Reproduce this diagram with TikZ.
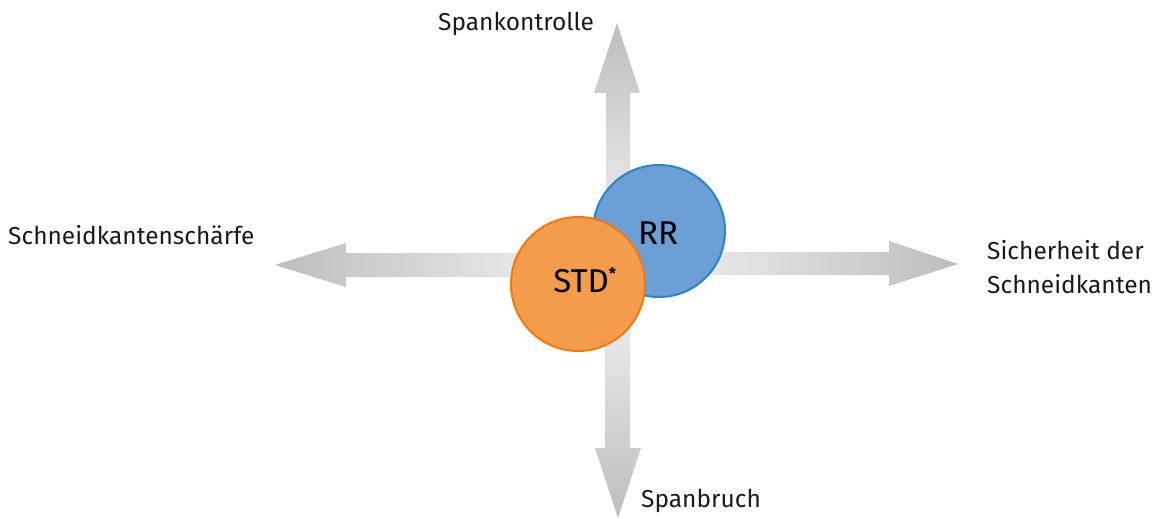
\documentclass[tikz,border=0pt]{standalone}
\usepackage{fontspec}
\setmainfont{Fira Sans}
\definecolor{arrowdark}{HTML}{BDBDBD}
\definecolor{arrowlight}{HTML}{F7F7F7}
\definecolor{rrfill}{HTML}{6B9FD5}
\definecolor{rrline}{HTML}{2A86C9}
\definecolor{stdfill}{HTML}{F39C4B}
\definecolor{stdline}{HTML}{EE7A12}
\definecolor{txt}{HTML}{1A1A1A}
\tikzset{
  lbl/.style={inner sep=0pt, text=txt, font=\fontsize{24.5}{28}\selectfont},
  bubble/.style={circle, line width=2pt, inner sep=0pt, text=black,
                 font=\fontsize{33}{36}\selectfont}
}
\begin{document}
\begin{tikzpicture}[x=1pt,y=-1pt]
\useasboundingbox (0,0) rectangle (1160,519);
\coordinate (c) at (618,264);
% block arrows radiating from the centre
\shade[top color=arrowdark, bottom color=arrowlight]
  (606,264) -- (606,93) -- (594,93) -- (617,23) -- (640,93) -- (630,93) -- (630,264) -- cycle;
\shade[top color=arrowlight, bottom color=arrowdark]
  (605,264) -- (605,448) -- (595,448) -- (618,518) -- (641,448) -- (630,448) -- (630,264) -- cycle;
\shade[left color=arrowdark, right color=arrowlight]
  (618,253) -- (346,253) -- (346,243) -- (275,265) -- (346,287) -- (346,277) -- (618,277) -- cycle;
\shade[left color=arrowlight, right color=arrowdark]
  (618,252) -- (889,252) -- (889,241) -- (958,264) -- (889,286) -- (889,275) -- (618,275) -- cycle;
% the two bubbles
\node[bubble, draw=rrline, fill=rrfill, minimum size=132pt] (rr) at (659,231) {};
\node[bubble, draw=stdline, fill=stdfill, minimum size=134pt] (std) at (578,284) {};
\node[bubble, anchor=base] (rrtext) at (658,244) {RR};
\node[bubble, anchor=base west] (stdtext) at (550,292)
  {STD\raisebox{13pt}{\fontsize{16}{16}\selectfont\bfseries *}};
% axis labels
\node[lbl, anchor=base west] (top) at (438,31) {Spankontrolle};
\node[lbl, anchor=base west] (left) at (8,244) {Schneidkantenschärfe};
\node[lbl, anchor=base west] (right1) at (987,259) {Sicherheit der};
\node[lbl, anchor=base west] (right2) at (987,293) {Schneidkanten};
\node[lbl, anchor=base west] (bottom) at (641,507) {Spanbruch};
\end{tikzpicture}
\end{document}
